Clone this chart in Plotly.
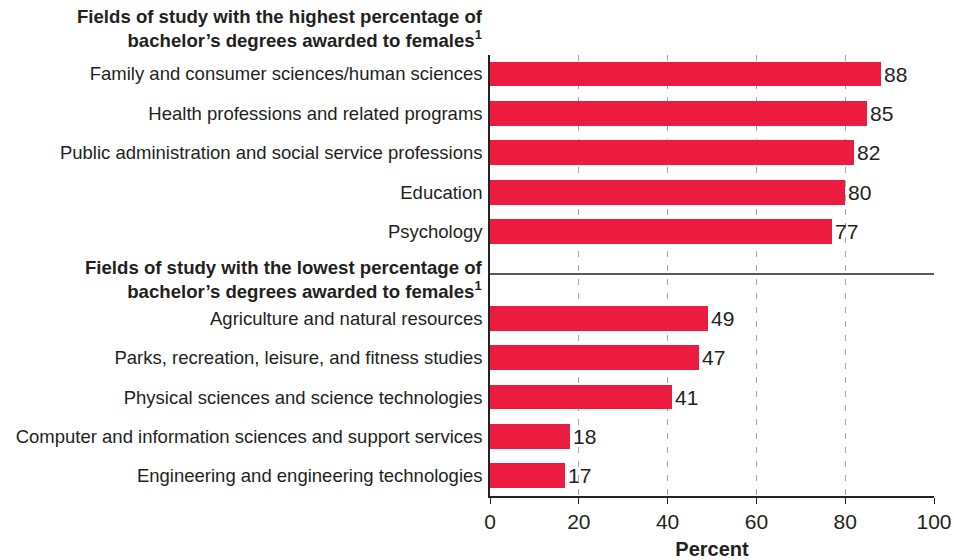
import plotly.graph_objects as go

# Fields with the highest share of bachelor's degrees awarded to females
high_fields = [
    "Family and consumer sciences/human sciences",
    "Health professions and related programs",
    "Public administration and social service professions",
    "Education",
    "Psychology",
]
high_values = [88, 85, 82, 80, 77]

# Fields with the lowest share
low_fields = [
    "Agriculture and natural resources",
    "Parks, recreation, leisure, and fitness studies",
    "Physical sciences and science technologies",
    "Computer and information sciences and support services",
    "Engineering and engineering technologies",
]
low_values = [49, 47, 41, 18, 17]

x_ticks = [0, 20, 40, 60, 80, 100]

high_header = "Fields of study with the highest percentage of<br>bachelor\u2019s degrees awarded to females<sup>1</sup>"
low_header = "Fields of study with the lowest percentage of<br>bachelor\u2019s degrees awarded to females<sup>1</sup>"

# Row positions: second group is shifted down to leave room for its heading
GROUP_GAP = 1.2
high_pos = [i for i in range(len(high_fields))]
low_pos = [len(high_fields) + GROUP_GAP + i for i in range(len(low_fields))]

FONT = "Liberation Sans, Arial, Helvetica, sans-serif"
TXT = "#231f20"
BAR = "#ec1c40"

fields = high_fields + low_fields
values = high_values + low_values
positions = high_pos + low_pos

fig = go.Figure()
fig.add_trace(go.Bar(
    x=values,
    y=positions,
    orientation="h",
    width=0.63,
    marker=dict(color=BAR, line=dict(width=0)),
    text=[str(v) for v in values],
    textposition="outside",
    textfont=dict(family=FONT, size=21, color=TXT),
    cliponaxis=False,
    hoverinfo="skip",
))

# Divider between the two groups
divider_y = len(high_fields) + 0.08
fig.add_shape(type="line", xref="x", yref="y", x0=0, x1=100,
              y0=divider_y, y1=divider_y,
              line=dict(color="#222", width=1.5))

# Group headings, right-aligned to the label column
header_kw = dict(xref="paper", yref="paper", x=0, xshift=-5, xanchor="right",
                 align="right", showarrow=False, yanchor="middle",
                 font=dict(family=FONT, size=18.6, color=TXT))
fig.add_annotation(text="<b>" + high_header + "</b>", y=1.059, **header_kw)
fig.add_annotation(text="<b>" + low_header + "</b>", y=0.492, **header_kw)

fig.update_layout(
    width=954, height=560,
    margin=dict(l=490, r=20, t=55, b=64, autoexpand=False),
    paper_bgcolor="white", plot_bgcolor="white",
    showlegend=False,
    bargap=0,
    font=dict(family=FONT, color=TXT),
)

fig.update_xaxes(
    range=[0, 100],
    tickvals=x_ticks,
    ticktext=[str(t) for t in x_ticks],
    tickfont=dict(family=FONT, size=21, color=TXT),
    ticks="outside", ticklen=6, tickcolor="#222", tickwidth=1.2,
    showline=True, linecolor="#222", linewidth=1.5,
    showgrid=True, gridcolor="#a8a8a8", gridwidth=1, griddash="6px,8px",
    zeroline=False, automargin=False,
    title=dict(text="<b>Percent</b>", font=dict(family=FONT, size=20, color=TXT), standoff=10),
)

fig.update_yaxes(
    range=[low_pos[-1] + 0.51, -0.48],
    tickvals=positions,
    ticktext=fields,
    tickfont=dict(family=FONT, size=18.5, color=TXT),
    ticks="", ticklabelstandoff=2,
    showline=True, linecolor="#222", linewidth=1.5,
    showgrid=False, zeroline=False, automargin=False,
)

fig.write_html("out.html")
